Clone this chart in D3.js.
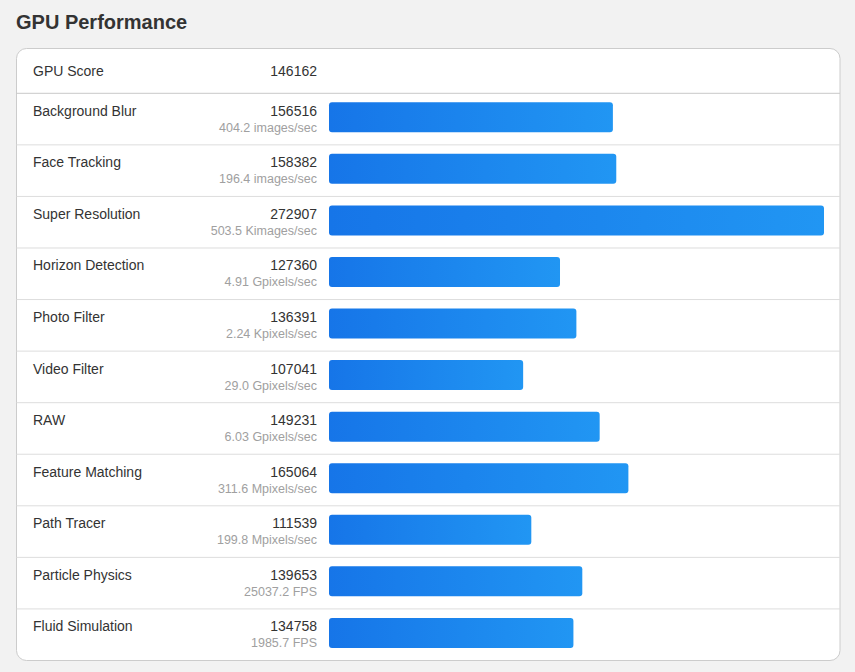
<!DOCTYPE html>
<html>
<head>
<meta charset="utf-8">
<script src="https://cdn.jsdelivr.net/npm/d3@7"></script>
<style>
  html, body { margin: 0; padding: 0; background: #f2f2f2; }
  svg { display: block; font-family: "Liberation Sans", Arial, sans-serif; }
</style>
</head>
<body>
<svg id="mainsvg" width="855" height="672"></svg>
<script>
// data
const title = 'GPU Performance'
const scoreLabel = 'GPU Score'
const scoreValue = 146162
const tests = ['Background Blur', 'Face Tracking', 'Super Resolution', 'Horizon Detection', 'Photo Filter',
  'Video Filter', 'RAW', 'Feature Matching', 'Path Tracer', 'Particle Physics', 'Fluid Simulation']
const scores = [156516, 158382, 272907, 127360, 136391, 107041, 149231, 165064, 111539, 139653, 134758]
const rates = ['404.2 images/sec', '196.4 images/sec', '503.5 Kimages/sec', '4.91 Gpixels/sec', '2.24 Kpixels/sec',
  '29.0 Gpixels/sec', '6.03 Gpixels/sec', '311.6 Mpixels/sec', '199.8 Mpixels/sec', '25037.2 FPS', '1985.7 FPS']

const card = {x: 16.5, y: 48.5, w: 823.5, h: 612}
const headerBottom = 93.3
const labelX = 33
const valueX = 317
const barX = 329
const barW = 495
const barH = 30

const svg = d3.select('#mainsvg')

const defs = svg.append('defs')
const grad = defs.append('linearGradient')
  .attr('id', 'barGrad')
  .attr('x1', '0%').attr('x2', '100%')
  .attr('y1', '0%').attr('y2', '0%')
grad.append('stop').attr('offset', '0%').attr('stop-color', '#1675e8')
grad.append('stop').attr('offset', '100%').attr('stop-color', '#2196f3')

svg.append('text')
  .attr('x', 16)
  .attr('y', 29)
  .attr('font-size', 20)
  .attr('font-weight', 'bold')
  .attr('fill', '#333')
  .text(title)

svg.append('rect')
  .attr('x', card.x)
  .attr('y', card.y)
  .attr('width', card.w)
  .attr('height', card.h)
  .attr('rx', 10)
  .attr('fill', '#fff')
  .attr('stroke', '#cccccc')
  .attr('stroke-width', 1)

// header row
svg.append('text')
  .attr('x', labelX).attr('y', 75.5)
  .attr('font-size', 14).attr('fill', '#333')
  .text(scoreLabel)
svg.append('text')
  .attr('x', valueX).attr('y', 75.5)
  .attr('font-size', 14).attr('fill', '#333')
  .attr('text-anchor', 'end')
  .text(scoreValue)

svg.append('line')
  .attr('x1', card.x).attr('x2', card.x + card.w)
  .attr('y1', headerBottom).attr('y2', headerBottom)
  .attr('stroke', '#c8c8c8')

const y = d3.scaleBand()
  .domain(tests)
  .range([headerBottom, card.y + card.h])
  .padding(0)

const x = d3.scaleLinear()
  .domain([0, d3.max(scores)])
  .range([0, barW])

const rows = svg.append('g').selectAll('g')
  .data(tests.map((t, i) => ({name: t, score: scores[i], rate: rates[i], i})))
  .join('g')
  .attr('transform', d => `translate(0,${y(d.name)})`)

rows.filter(d => d.i > 0).append('line')
  .attr('x1', card.x).attr('x2', card.x + card.w)
  .attr('y1', 0).attr('y2', 0)
  .attr('stroke', '#dddddd')

rows.append('text')
  .attr('x', labelX).attr('y', 22.5)
  .attr('font-size', 14).attr('fill', '#333')
  .text(d => d.name)

rows.append('text')
  .attr('x', valueX).attr('y', 22.5)
  .attr('font-size', 14).attr('fill', '#333')
  .attr('text-anchor', 'end')
  .text(d => d.score)

rows.append('text')
  .attr('x', valueX).attr('y', 38.5)
  .attr('font-size', 12.5).attr('fill', '#a0a0a0')
  .attr('text-anchor', 'end')
  .text(d => d.rate)

rows.append('rect')
  .attr('x', barX)
  .attr('y', 9)
  .attr('width', d => x(d.score))
  .attr('height', barH)
  .attr('rx', 3)
  .attr('fill', 'url(#barGrad)')
</script>
</body>
</html>
